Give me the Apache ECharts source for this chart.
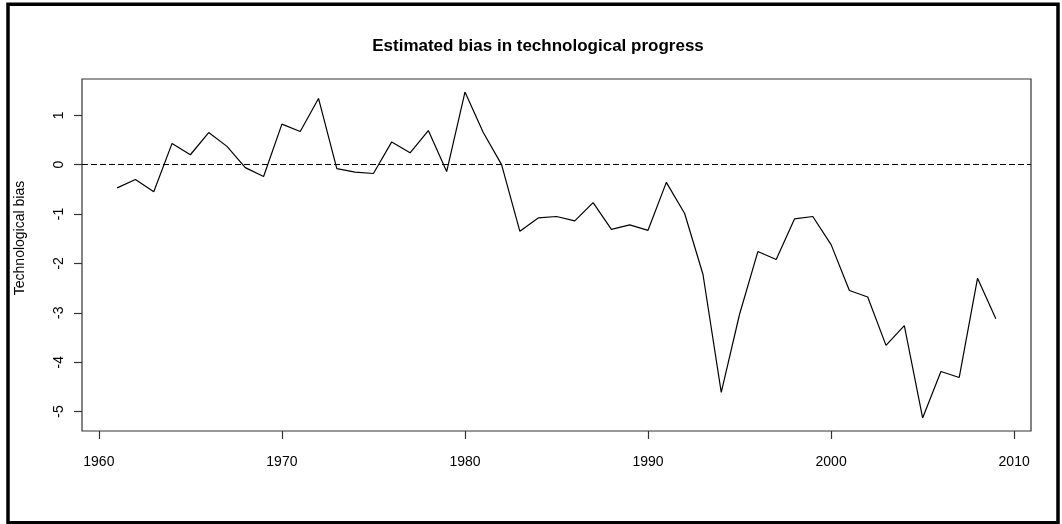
<!DOCTYPE html>
<html>
<head>
<meta charset="utf-8">
<title>Estimated bias in technological progress</title>
<script src="https://cdn.jsdelivr.net/npm/echarts@6.0.0/dist/echarts.min.js"></script>
<style>
  html, body { margin: 0; padding: 0; background: #fff; }
  #chart { width: 1062px; height: 524px; }
</style>
</head>
<body>
<div id="chart"></div>
<script>
// Annual estimates of the technological bias, 1961-2009
const years = [
  1961, 1962, 1963, 1964, 1965, 1966, 1967, 1968, 1969, 1970,
  1971, 1972, 1973, 1974, 1975, 1976, 1977, 1978, 1979, 1980,
  1981, 1982, 1983, 1984, 1985, 1986, 1987, 1988, 1989, 1990,
  1991, 1992, 1993, 1994, 1995, 1996, 1997, 1998, 1999, 2000,
  2001, 2002, 2003, 2004, 2005, 2006, 2007, 2008, 2009
];
const bias = [
  -0.47, -0.30, -0.55, 0.43, 0.20, 0.65, 0.37, -0.06, -0.24, 0.82,
  0.67, 1.34, -0.08, -0.15, -0.18, 0.46, 0.24, 0.69, -0.14, 1.47,
  0.65, 0.00, -1.35, -1.08, -1.05, -1.14, -0.77, -1.31, -1.22, -1.33,
  -0.36, -0.99, -2.22, -4.61, -3.03, -1.76, -1.92, -1.10, -1.05, -1.62,
  -2.55, -2.68, -3.66, -3.26, -5.13, -4.19, -4.31, -2.30, -3.12
];
const xTicks = [1960, 1970, 1980, 1990, 2000, 2010];
const yTicks = [-5, -4, -3, -2, -1, 0, 1];

const titleText = 'Estimated bias in technological progress';
const yName = 'Technological bias';

// Axis limits padded by 4% of the data range on each side
const xPad = (years[years.length - 1] - years[0]) * 0.04;
const yMinData = Math.min(...bias), yMaxData = Math.max(...bias);
const yPad = (yMaxData - yMinData) * 0.04;

const FONT = '"Liberation Sans", Arial, Helvetica, sans-serif';

const chart = echarts.init(document.getElementById('chart'), null, { renderer: 'canvas' });

chart.setOption({
  animation: false,
  backgroundColor: '#fff',
  textStyle: { fontFamily: FONT, color: '#000' },
  grid: {
    left: 82, right: 31, top: 79, bottom: 93,
    show: true, borderColor: '#333', borderWidth: 1.2,
    backgroundColor: 'transparent', containLabel: false
  },
  xAxis: {
    type: 'value',
    position: 'bottom',
    min: years[0] - xPad,
    max: years[years.length - 1] + xPad,
    splitLine: { show: false },
    axisLine: { show: false, onZero: false },
    axisTick: {
      show: true, inside: false, length: 8,
      customValues: xTicks,
      lineStyle: { color: '#333', width: 1.2 }
    },
    axisLabel: {
      customValues: xTicks,
      margin: 24,
      fontFamily: FONT, fontSize: 14, color: '#000',
      formatter: v => String(v)
    }
  },
  yAxis: {
    type: 'value',
    position: 'left',
    min: yMinData - yPad,
    max: yMaxData + yPad,
    splitLine: { show: false },
    axisLine: { show: false, onZero: false },
    axisTick: {
      show: true, inside: false, length: 8,
      customValues: yTicks,
      lineStyle: { color: '#333', width: 1.2 }
    },
    axisLabel: {
      customValues: yTicks,
      rotate: 90,
      margin: 16,
      fontFamily: FONT, fontSize: 14, color: '#000',
      formatter: v => String(v)
    }
  },
  graphic: [
    {
      // outer frame
      type: 'rect', silent: true,
      shape: { x: 8, y: 4.2, width: 1050, height: 518.5 },
      style: { fill: 'none', stroke: '#000', lineWidth: 3.5 }
    },
    {
      type: 'text', silent: true,
      x: 538, y: 46,
      style: {
        text: titleText, fill: '#000',
        font: 'bold 17px ' + FONT,
        align: 'center', verticalAlign: 'middle'
      }
    },
    {
      type: 'text', silent: true,
      x: 20, y: 238, rotation: Math.PI / 2,
      style: {
        text: yName, fill: '#000',
        font: '14px ' + FONT,
        align: 'center', verticalAlign: 'middle'
      }
    }
  ],
  series: [
    {
      type: 'line',
      data: years.map((y, i) => [y, bias[i]]),
      showSymbol: false,
      symbol: 'none',
      lineStyle: { color: '#000', width: 1.2 },
      markLine: {
        silent: true,
        symbol: ['none', 'none'],
        label: { show: false },
        lineStyle: { color: '#000', width: 1.2, type: [6, 3] },
        data: [{ yAxis: 0 }]
      }
    }
  ]
});
</script>
</body>
</html>
